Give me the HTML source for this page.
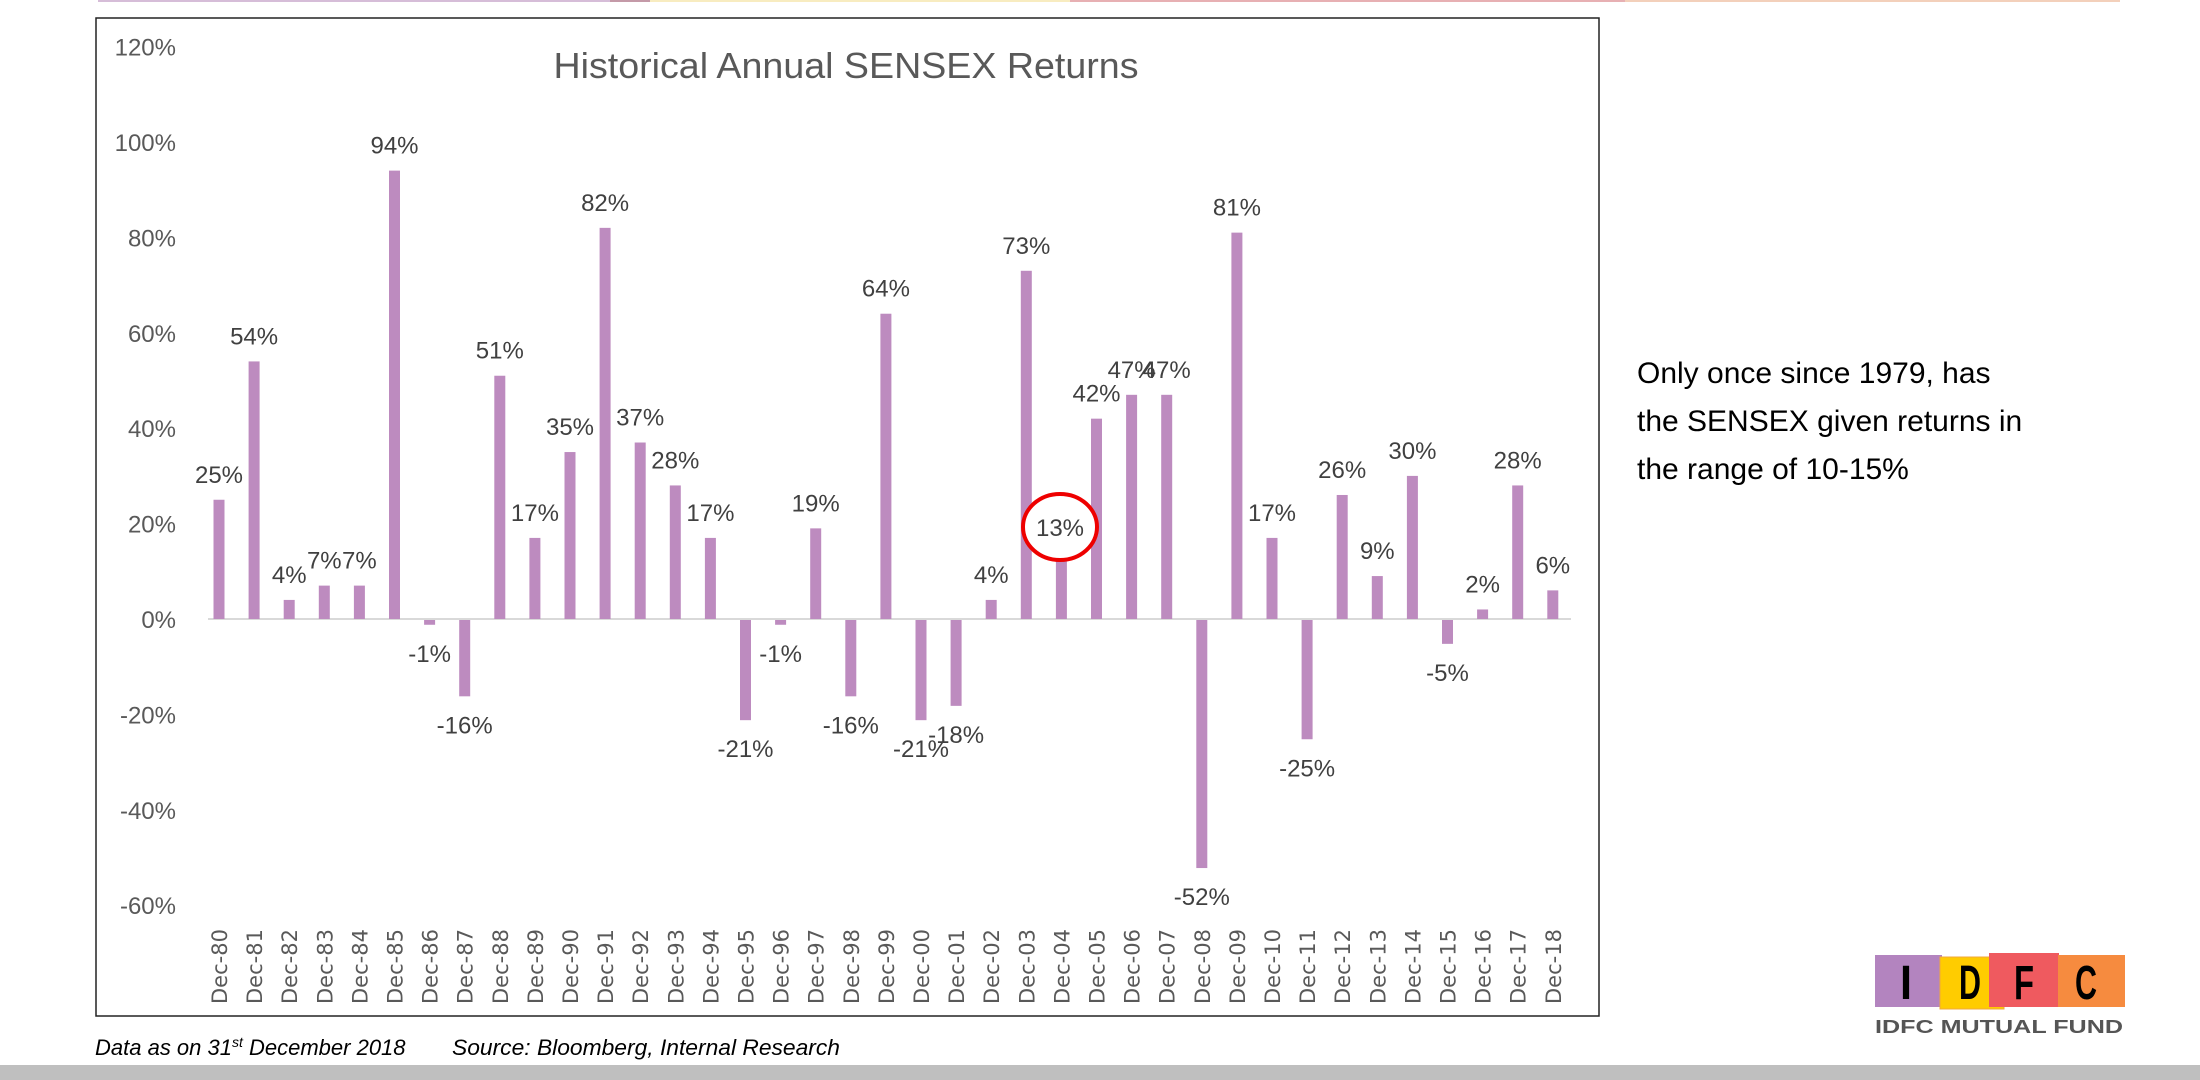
<!DOCTYPE html>
<html><head><meta charset="utf-8"><style>
html,body{margin:0;padding:0;background:#fff;}
svg{display:block;}
</style></head><body>
<svg width="2200" height="1080" viewBox="0 0 2200 1080" xmlns="http://www.w3.org/2000/svg">
<rect x="0" y="0" width="2200" height="1080" fill="#fff"/>
<rect x="98" y="0" width="512" height="2" fill="#d6bdd8"/>
<rect x="610" y="0" width="40" height="2" fill="#c49aa8"/>
<rect x="650" y="0" width="420" height="2" fill="#f8ecc0"/>
<rect x="1070" y="0" width="555" height="2" fill="#e7b0b3"/>
<rect x="1625" y="0" width="495" height="2" fill="#f3d0bb"/>
<rect x="96" y="18" width="1503" height="998" fill="none" stroke="#222" stroke-width="1.5"/>
<text x="846" y="78" text-anchor="middle" font-family="Liberation Sans, sans-serif" font-size="36" fill="#595959" textLength="585" lengthAdjust="spacingAndGlyphs">Historical Annual SENSEX Returns</text>
<g font-family="Liberation Sans, sans-serif" font-size="24" fill="#595959" text-anchor="end" id="yl"></g>
<line x1="208" y1="619" x2="1571" y2="619" stroke="#d9d9d9" stroke-width="2"/>
<g id="bars"></g>
<ellipse cx="1060" cy="527" rx="37" ry="33" fill="#fff" stroke="#e00" stroke-width="4"/>
<text x="1060" y="536" text-anchor="middle" font-family="Liberation Sans, sans-serif" font-size="24" fill="#404040">13%</text>
<g font-family="Liberation Sans, sans-serif" font-size="30" fill="#000">
<text x="1637" y="383">Only once since 1979, has</text>
<text x="1637" y="431">the SENSEX given returns in</text>
<text x="1637" y="479">the range of 10-15%</text>
</g>
<g font-family="Liberation Sans, sans-serif" font-style="italic" font-size="22" fill="#000">
<text x="95" y="1055">Data as on 31<tspan font-size="14" dy="-8">st</tspan><tspan dy="8"> December 2018</tspan></text>
<text x="452" y="1055" textLength="388" lengthAdjust="spacingAndGlyphs">Source: Bloomberg, Internal Research</text>
</g>
<rect x="0" y="1065" width="2200" height="15" fill="#bfbfbf"/>
<g>
<rect x="1875" y="955" width="67" height="52" fill="#b384bf"/>
<rect x="1940" y="957" width="64" height="52" fill="#ffcc00" stroke="#f2a93b" stroke-width="1"/>
<rect x="1989" y="953" width="70" height="54" fill="#ef5a5f"/>
<rect x="2058" y="955" width="67" height="52" fill="#f68b3f"/>
<g font-family="Liberation Sans, sans-serif" font-weight="bold" font-size="48" fill="#000" text-anchor="middle">
<text x="1906" y="999" textLength="12" lengthAdjust="spacingAndGlyphs">I</text>
<text x="1970" y="999" textLength="22" lengthAdjust="spacingAndGlyphs">D</text>
<text x="2024" y="999" textLength="20" lengthAdjust="spacingAndGlyphs">F</text>
<text x="2086" y="999" textLength="22" lengthAdjust="spacingAndGlyphs">C</text>
</g>
<text x="1875" y="1033" font-family="Liberation Sans, sans-serif" font-weight="bold" font-size="18" fill="#555" textLength="248" lengthAdjust="spacingAndGlyphs">IDFC MUTUAL FUND</text>
</g>
</svg>
<script>
var ns="http://www.w3.org/2000/svg";
var vals=[25,54,4,7,7,94,-1,-16,51,17,35,82,37,28,17,-21,-1,19,-16,64,-21,-18,4,73,13,42,47,47,-52,81,17,-25,26,9,30,-5,2,28,6];
var base=619,k=4.77,x0=219,dx=35.1;
var yl=document.getElementById('yl');
for(var v=120;v>=-60;v-=20){var t=document.createElementNS(ns,'text');t.setAttribute('x',176);t.setAttribute('y',base-v*k+9);t.textContent=v+'%';yl.appendChild(t);}
var g=document.getElementById('bars');
vals.forEach(function(v,i){
 var cx=x0+i*dx,h=Math.abs(v)*k;
 var r=document.createElementNS(ns,'rect');r.setAttribute('x',cx-5.5);r.setAttribute('width',11);
 r.setAttribute('y',v>=0?base-h:base+1);r.setAttribute('height',Math.max(h,2));r.setAttribute('fill','#bd8bbf');g.appendChild(r);
 if(i!=24){var t=document.createElementNS(ns,'text');t.setAttribute('x',cx);t.setAttribute('text-anchor','middle');
 t.setAttribute('y',v>=0?base-h-17:base+h+38);t.setAttribute('font-family','Liberation Sans, sans-serif');t.setAttribute('font-size','24');t.setAttribute('fill','#404040');t.textContent=v+'%';g.appendChild(t);}
 var s=(80+i)%100;var yr=(s<10?'0':'')+s;
 var l=document.createElementNS(ns,'text');l.setAttribute('transform','translate('+(cx+8)+',1004) rotate(-90)');
 l.setAttribute('font-family','DejaVu Sans, sans-serif');l.setAttribute('font-size','21');l.setAttribute('fill','#595959');l.textContent='Dec-'+yr;g.appendChild(l);
});
</script>
</body></html>
